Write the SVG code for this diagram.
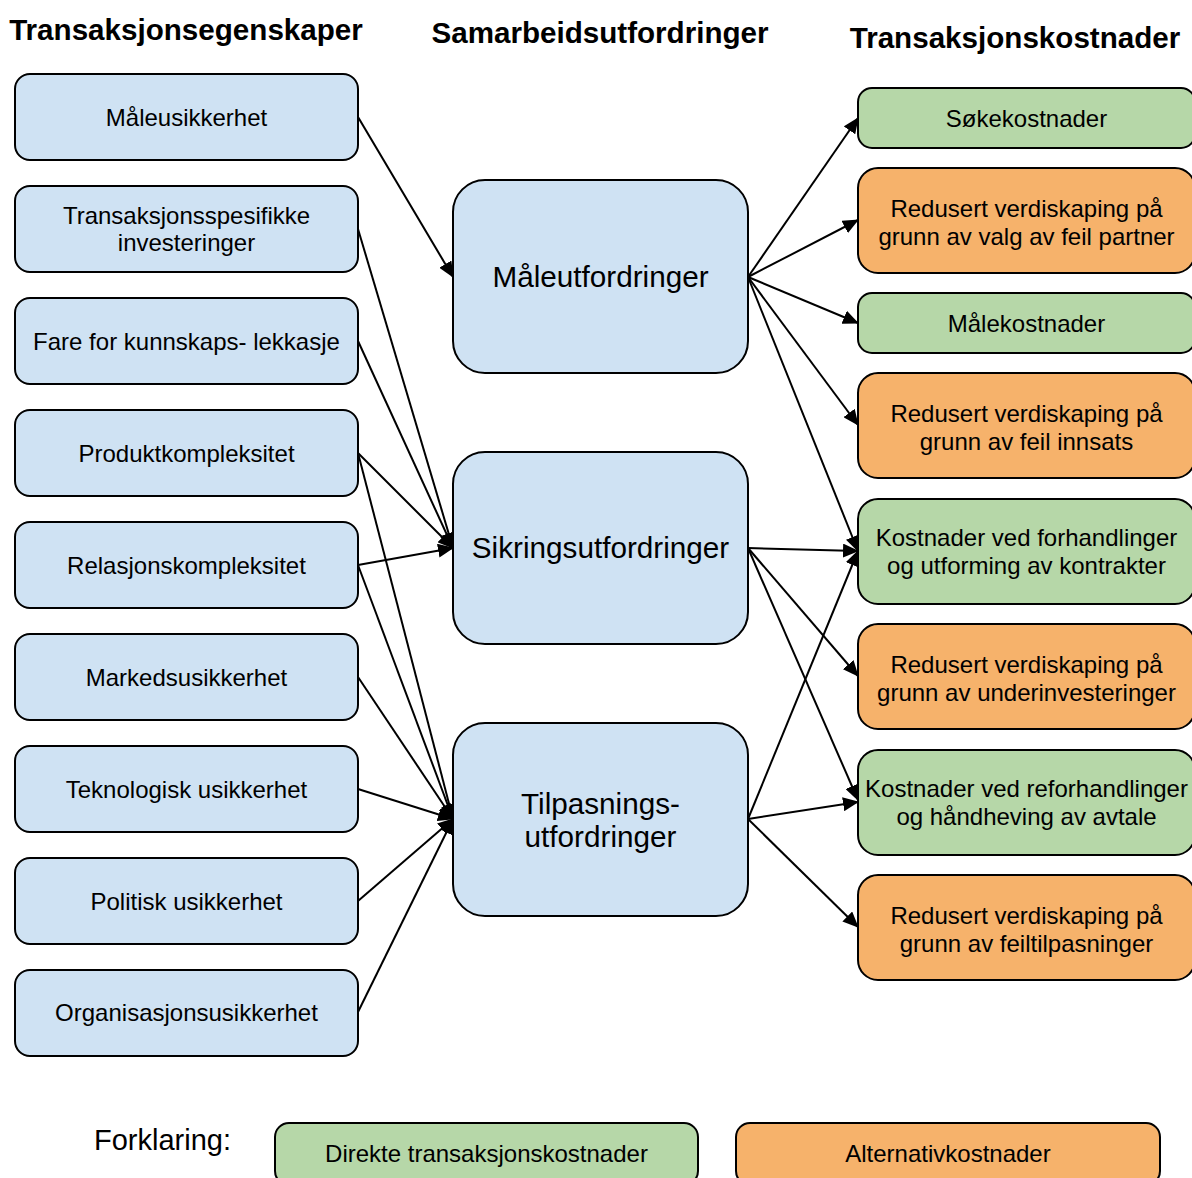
<svg xmlns="http://www.w3.org/2000/svg" width="1192" height="1178" viewBox="0 0 1192 1178">
<defs>
<marker id="arr" markerUnits="userSpaceOnUse" markerWidth="16" markerHeight="14" refX="15" refY="7" orient="auto">
<path d="M0,0 L16,7 L0,14 z" fill="#000"/>
</marker>
<style>
.b{fill:#cfe2f3;stroke:#000;stroke-width:2}
.g{fill:#b6d7a8;stroke:#000;stroke-width:2}
.o{fill:#f6b26b;stroke:#000;stroke-width:2}
.t{font-family:"Liberation Sans",Arial,sans-serif;font-size:24px;fill:#000;text-anchor:middle}
.m{font-family:"Liberation Sans",Arial,sans-serif;font-size:29.7px;fill:#000;text-anchor:middle}
.h{font-family:"Liberation Sans",Arial,sans-serif;font-size:29.6px;font-weight:bold;fill:#000;text-anchor:middle}
.c line{stroke:#000;stroke-width:2;marker-end:url(#arr)}
</style>
</defs>
<rect width="1192" height="1178" fill="#fff"/>
<text class="h" x="186" y="40">Transaksjonsegenskaper</text>
<text class="h" x="600" y="43">Samarbeidsutfordringer</text>
<text class="h" x="1015" y="48">Transaksjonskostnader</text>

<g class="c">
<line x1="358" y1="117" x2="453" y2="277"/>
<line x1="358" y1="229" x2="453" y2="548"/>
<line x1="358" y1="341" x2="453" y2="548"/>
<line x1="358" y1="453" x2="453" y2="548"/>
<line x1="358" y1="565" x2="453" y2="548"/>
<line x1="358" y1="453" x2="453" y2="819"/>
<line x1="358" y1="565" x2="453" y2="819"/>
<line x1="358" y1="677" x2="453" y2="819"/>
<line x1="358" y1="789" x2="453" y2="819"/>
<line x1="358" y1="901" x2="453" y2="819"/>
<line x1="358" y1="1012" x2="453" y2="819"/>
<line x1="748" y1="277" x2="858" y2="118"/>
<line x1="748" y1="277" x2="858" y2="220"/>
<line x1="748" y1="277" x2="858" y2="323"/>
<line x1="748" y1="277" x2="858" y2="425"/>
<line x1="748" y1="277" x2="858" y2="551"/>
<line x1="748" y1="548" x2="858" y2="551"/>
<line x1="748" y1="548" x2="858" y2="676"/>
<line x1="748" y1="548" x2="858" y2="800"/>
<line x1="748" y1="819" x2="858" y2="551"/>
<line x1="748" y1="819" x2="858" y2="802"/>
<line x1="748" y1="819" x2="858" y2="927"/>
</g>

<g id="n-maaleusikkerhet"><rect class="b" x="15" y="74" width="343" height="86" rx="15"/><text class="t" x="186.5" y="125.5">Måleusikkerhet</text></g>
<g id="n-transspes"><rect class="b" x="15" y="186" width="343" height="86" rx="15"/><text class="t" x="186.5" y="224">Transaksjonsspesifikke</text><text class="t" x="186.5" y="251">investeringer</text></g>
<g id="n-fare"><rect class="b" x="15" y="298" width="343" height="86" rx="15"/><text class="t" x="186.5" y="349.5">Fare for kunnskaps- lekkasje</text></g>
<g id="n-produkt"><rect class="b" x="15" y="410" width="343" height="86" rx="15"/><text class="t" x="186.5" y="461.5">Produktkompleksitet</text></g>
<g id="n-relasjon"><rect class="b" x="15" y="522" width="343" height="86" rx="15"/><text class="t" x="186.5" y="573.5">Relasjonskompleksitet</text></g>
<g id="n-markeds"><rect class="b" x="15" y="634" width="343" height="86" rx="15"/><text class="t" x="186.5" y="685.5">Markedsusikkerhet</text></g>
<g id="n-teknologisk"><rect class="b" x="15" y="746" width="343" height="86" rx="15"/><text class="t" x="186.5" y="797.5">Teknologisk usikkerhet</text></g>
<g id="n-politisk"><rect class="b" x="15" y="858" width="343" height="86" rx="15"/><text class="t" x="186.5" y="909.5">Politisk usikkerhet</text></g>
<g id="n-organisasjon"><rect class="b" x="15" y="970" width="343" height="86" rx="15"/><text class="t" x="186.5" y="1020.5">Organisasjonsusikkerhet</text></g>

<g id="n-maaleutf"><rect class="b" x="453" y="180" width="295" height="193" rx="32"/><text class="m" x="600.5" y="287">Måleutfordringer</text></g>
<g id="n-sikring"><rect class="b" x="453" y="452" width="295" height="192" rx="32"/><text class="m" x="600.5" y="558">Sikringsutfordringer</text></g>
<g id="n-tilpasning"><rect class="b" x="453" y="723" width="295" height="193" rx="32"/><text class="m" x="600.5" y="814">Tilpasnings-</text><text class="m" x="600.5" y="847">utfordringer</text></g>

<g id="n-soke"><rect class="g" x="858" y="88" width="337" height="60" rx="14"/><text class="t" x="1026.5" y="126.5">Søkekostnader</text></g>
<g id="n-valg"><rect class="o" x="858" y="168" width="337" height="105" rx="20"/><text class="t" x="1026.5" y="216.5">Redusert verdiskaping på</text><text class="t" x="1026.5" y="244.5">grunn av valg av feil partner</text></g>
<g id="n-maalekost"><rect class="g" x="858" y="293" width="337" height="60" rx="14"/><text class="t" x="1026.5" y="331.5">Målekostnader</text></g>
<g id="n-innsats"><rect class="o" x="858" y="373" width="337" height="105" rx="20"/><text class="t" x="1026.5" y="421.5">Redusert verdiskaping på</text><text class="t" x="1026.5" y="449.5">grunn av feil innsats</text></g>
<g id="n-forhandlinger"><rect class="g" x="858" y="499" width="337" height="105" rx="20"/><text class="t" x="1026.5" y="546">Kostnader ved forhandlinger</text><text class="t" x="1026.5" y="574">og utforming av kontrakter</text></g>
<g id="n-underinv"><rect class="o" x="858" y="624" width="337" height="105" rx="20"/><text class="t" x="1026.5" y="672.5">Redusert verdiskaping på</text><text class="t" x="1026.5" y="700.5">grunn av underinvesteringer</text></g>
<g id="n-reforh"><rect class="g" x="858" y="750" width="337" height="105" rx="20"/><text class="t" x="1026.5" y="797">Kostnader ved reforhandlinger</text><text class="t" x="1026.5" y="825">og håndheving av avtale</text></g>
<g id="n-feiltilp"><rect class="o" x="858" y="875" width="337" height="105" rx="20"/><text class="t" x="1026.5" y="923.5">Redusert verdiskaping på</text><text class="t" x="1026.5" y="951.5">grunn av feiltilpasninger</text></g>

<g id="legend">
<text x="94" y="1150" style="font-family:'Liberation Sans',Arial,sans-serif;font-size:29px;fill:#000">Forklaring:</text>
<rect class="g" x="275" y="1123" width="423" height="62" rx="14"/><text class="t" x="486.5" y="1161.5">Direkte transaksjonskostnader</text>
<rect class="o" x="736" y="1123" width="424" height="62" rx="14"/><text class="t" x="948" y="1161.5">Alternativkostnader</text>
</g>
</svg>
